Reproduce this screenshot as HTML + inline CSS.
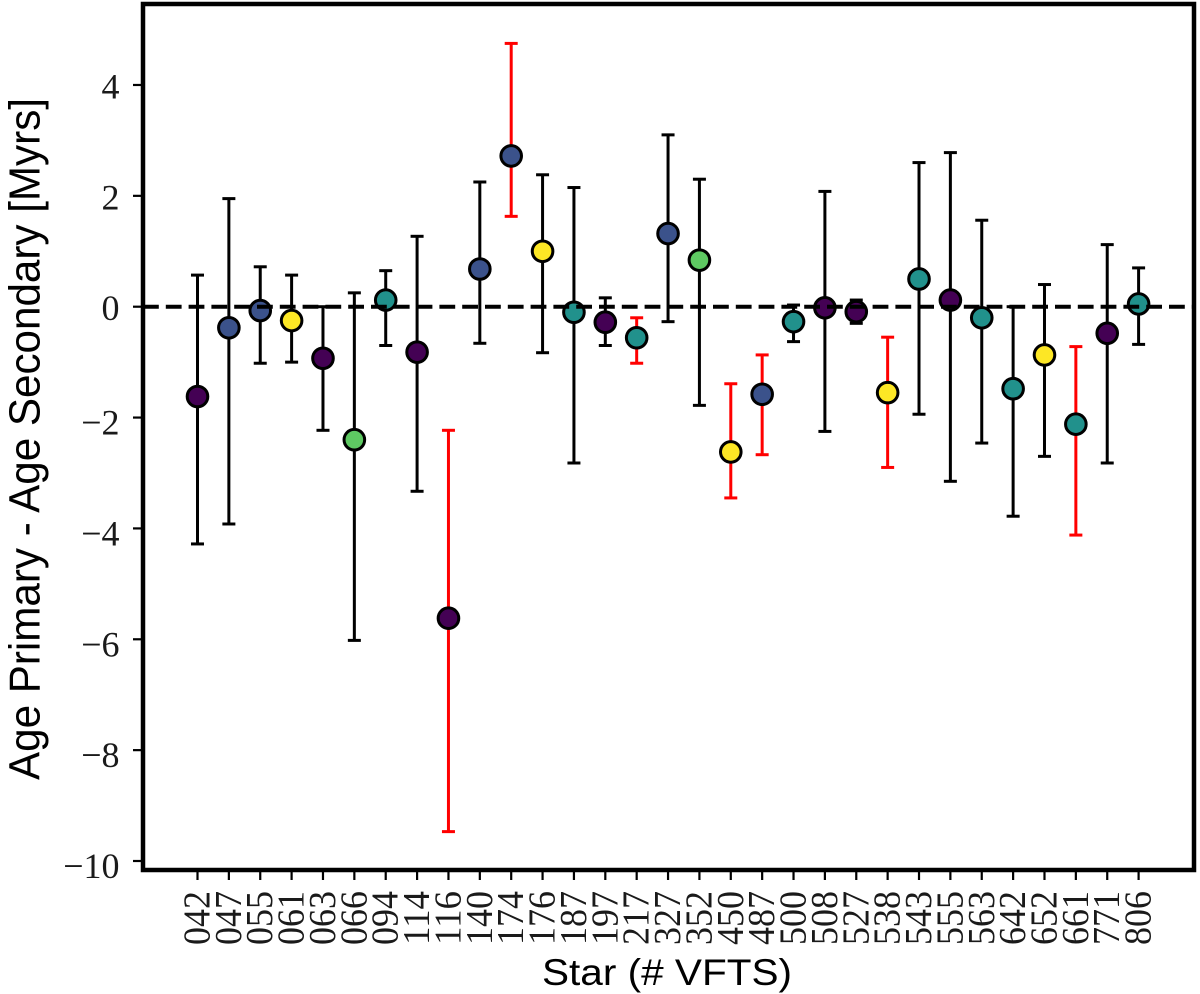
<!DOCTYPE html>
<html lang="en">
<head>
<meta charset="utf-8">
<title>Age difference chart</title>
<style>
html,body{margin:0;padding:0;background:#fff;}
svg{display:block;}
text{fill:#000;}
.tick{font-family:"Liberation Serif",serif;font-size:36px;fill:#1a1a1a;}
.xtick{font-size:38px;}
.label{font-family:"Liberation Sans",sans-serif;}
</style>
</head>
<body>
<svg id="chart" width="1200" height="994" viewBox="0 0 1200 994" xmlns="http://www.w3.org/2000/svg">
<g id="ticks"></g>
<g id="bars"></g>
<g id="points"></g>
<line id="zero" stroke="#000" stroke-width="4" stroke-dasharray="15.8 7"></line>
<rect x="143" y="4" width="1051" height="866" fill="none" stroke="#000" stroke-width="4.5"></rect>
<text class="label" transform="translate(39.5,439) rotate(-90)" text-anchor="middle" font-size="44" textLength="682" lengthAdjust="spacingAndGlyphs">Age Primary - Age Secondary [Myrs]</text>
<text class="label" x="667" y="985" text-anchor="middle" font-size="37" textLength="250" lengthAdjust="spacingAndGlyphs">Star (# VFTS)</text>
</svg>
<script>
const categories = ["042","047","055","061","063","066","094","114","116","140","174","176","187","197","217","327","352","450","487","500","508","527","538","543","555","563","642","652","661","771","806"];
const values = [-1.62,-0.38,-0.07,-0.25,-0.93,-2.4,0.12,-0.82,-5.62,0.68,2.72,1.0,-0.1,-0.28,-0.56,1.32,0.84,-2.62,-1.58,-0.27,-0.02,-0.09,-1.55,0.5,0.12,-0.2,-1.48,-0.87,-2.12,-0.48,0.05];
const upper = [0.57,1.95,0.72,0.57,0.0,0.25,0.65,1.27,-2.23,2.25,4.75,2.38,2.15,0.16,-0.2,3.1,2.3,-1.39,-0.87,0.03,2.08,0.12,-0.55,2.6,2.78,1.56,0.0,0.4,-0.72,1.12,0.7];
const lower = [-4.28,-3.92,-1.02,-1.0,-2.23,-6.02,-0.7,-3.33,-9.47,-0.66,1.63,-0.83,-2.82,-0.7,-1.02,-0.27,-1.78,-3.45,-2.67,-0.63,-2.25,-0.3,-2.9,-1.94,-3.15,-2.46,-3.78,-2.7,-4.12,-2.82,-0.68];
const groups = [0,1,1,4,0,3,2,0,0,1,1,4,2,0,2,1,3,4,1,2,0,0,4,2,0,2,2,4,2,0,2];
const flagged = ["116","174","217","450","487","538","661"];
const palette = ["#440154","#3b528b","#21918c","#5ec962","#fde725"];
const yTicks = [4,2,0,-2,-4,-6,-8,-10];

const NS = "http://www.w3.org/2000/svg";
const xAxis = i => 197.5 + i * 31.37;
const yAxis = v => 306.7 - v * 55.43;
function make(parent, tag, attrs) {
  const el = document.createElementNS(NS, tag);
  for (const k in attrs) el.setAttribute(k, attrs[k]);
  parent.appendChild(el);
  return el;
}
const ticks = document.getElementById("ticks");
const bars = document.getElementById("bars");
const points = document.getElementById("points");
const zero = document.getElementById("zero");
zero.setAttribute("x1", 143);
zero.setAttribute("x2", 1194);
zero.setAttribute("y1", yAxis(0));
zero.setAttribute("y2", yAxis(0));

yTicks.forEach(t => {
  const y = yAxis(t);
  const mark = make(ticks, "line", {x1: 133, x2: 143, y1: y, y2: y, stroke: "#000", "stroke-width": 2.2});
  
  
  const label = make(ticks, "text", {x: 119.5, y: y + (t < 0 ? 17 : 13.5), "text-anchor": "end", class: "tick"});
  
  
  label.textContent = (t < 0 ? "\u2212" : "") + Math.abs(t);
});

categories.forEach((c, i) => {
  const x = xAxis(i);
  const mark = make(ticks, "line", {x1: x, x2: x, y1: 870, y2: 880, stroke: "#000", "stroke-width": 2.2});
  
  
  const label = make(ticks, "text", {transform: `translate(${x + 12},945) rotate(-90)`, class: "tick xtick", textLength: 54, lengthAdjust: "spacingAndGlyphs"});
  
  
  label.textContent = c;

  const color = flagged.includes(c) ? "#ff0000" : "#000000";
  const g = make(bars, "g", {stroke: color, "stroke-width": 3});
  
  
  const yHi = yAxis(upper[i]), yLo = yAxis(lower[i]);
  make(g, "line", {x1: x, x2: x, y1: yHi, y2: yLo});
  make(g, "line", {x1: x - 6.5, x2: x + 6.5, y1: yHi, y2: yHi});
  make(g, "line", {x1: x - 6.5, x2: x + 6.5, y1: yLo, y2: yLo});

  const dot = make(points, "circle", {cx: x, cy: yAxis(values[i]), r: 10.3, fill: palette[groups[i]], stroke: "#000", "stroke-width": 3});
  
  
});
</script>
</body>
</html>
